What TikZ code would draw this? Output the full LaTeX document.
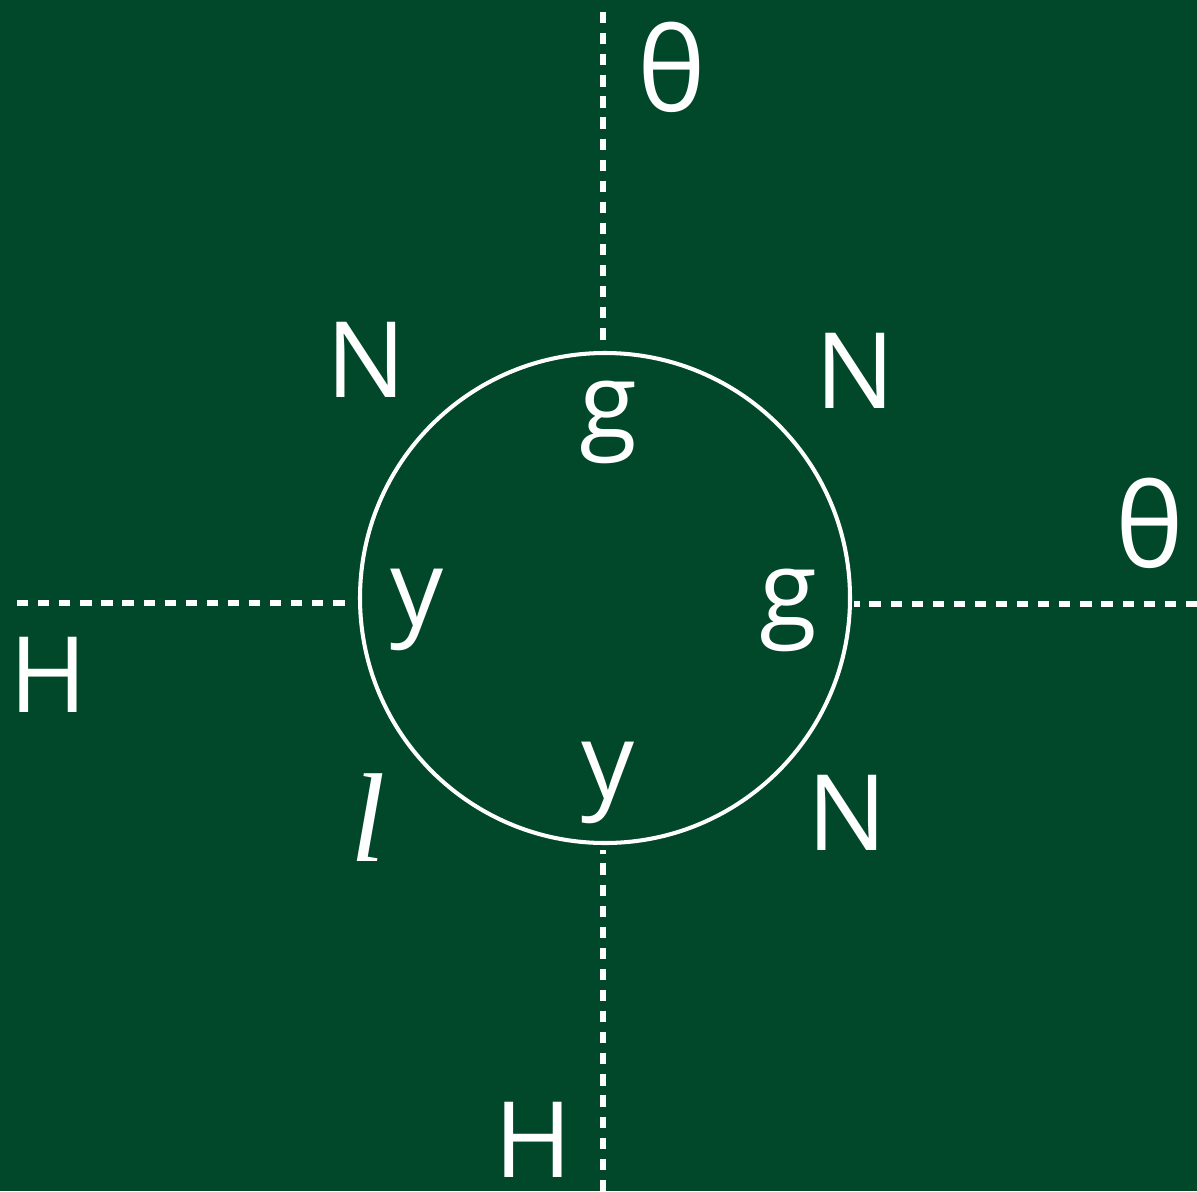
\documentclass[tikz,border=0pt]{standalone}
\usepackage{fontspec}
\setmainfont{Open Sans}
\newfontfamily\serifit{Liberation Serif}
\usepackage{tikz}
\usetikzlibrary{positioning}
\definecolor{boardgreen}{RGB}{0,72,41}

\tikzset{
  lbl/.style={text=white, inner sep=0pt, font=\fontsize{30}{36}\selectfont},
  glbl/.style={lbl, font=\fontsize{33}{40}\selectfont},
  axis/.style={white, line width=1.55pt, dash pattern=on 3.2pt off 2.8pt}
}

\begin{document}
\begin{tikzpicture}[x=0.1mm, y=-0.1mm]
\fill[boardgreen] (0,0) rectangle (1197,1191);
\useasboundingbox (0,0) rectangle (1197,1191);

\node[draw=white, line width=1.15pt, circle, minimum size=4.9cm, inner sep=0pt] (ring) at (605,598) {};

\coordinate (topEnd) at (603,12);
\coordinate (botEnd) at (603,1191);
\coordinate (leftEnd) at (17,603);
\coordinate (rightEnd) at (1197,604);

\draw[axis, shorten >=2.5pt] (topEnd) -- (topEnd |- ring.north);
\draw[axis, shorten >=1.5pt] (botEnd) -- (botEnd |- ring.south);
\draw[axis, shorten >=1.5pt] (leftEnd) -- (leftEnd -| ring.west);
\draw[axis, shorten >=0.5pt] (rightEnd) -- (rightEnd -| ring.east);

\node[glbl] (thetaTop) at (672,67) {θ};
\node[glbl] (thetaRight) at (1150,523) {θ};
\node[lbl] (nTopLeft) at (366,360) {N};
\node[lbl] (nTopRight) at (855,371) {N};
\node[lbl] (nBotRight) at (847,813) {N};
\node[lbl] (hLeft) at (48,675) {H};
\node[lbl] (hBot) at (533,1140) {H};
\node[lbl, font=\serifit\itshape\fontsize{36}{42}\selectfont] (ell) at (368,818) {l};
\node[lbl] (gTop) at (608,422) {g};
\node[lbl] (gRight) at (788,610) {g};
\node[lbl] (yLeft) at (417,610) {y};
\node[lbl] (yBot) at (608,783) {y};
\end{tikzpicture}
\end{document}
